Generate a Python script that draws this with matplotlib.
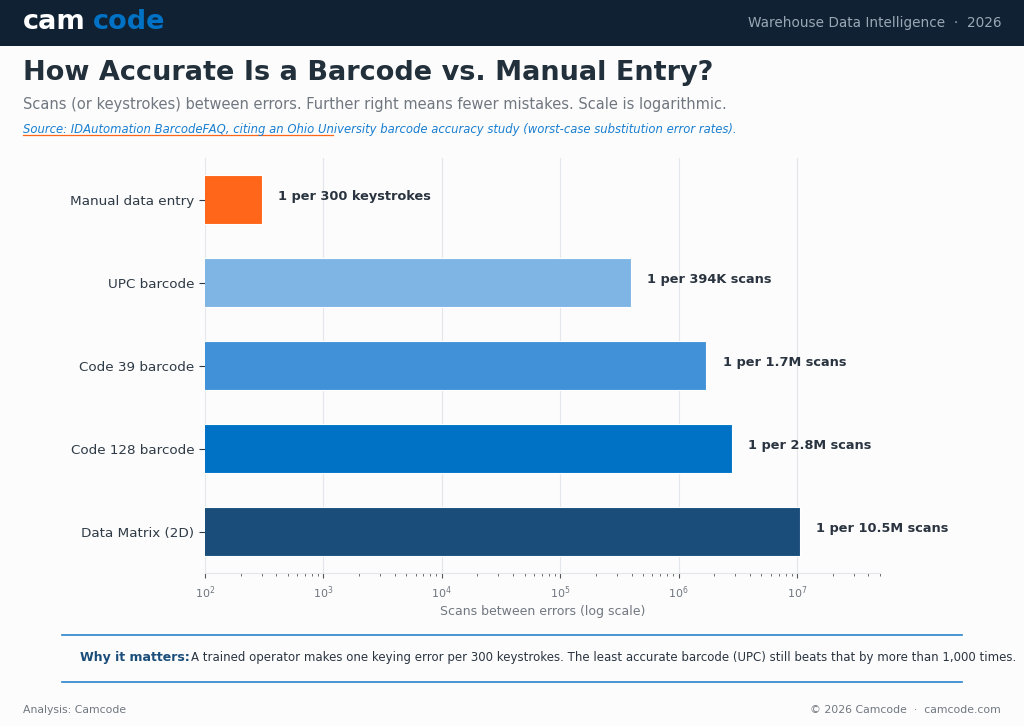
import matplotlib
matplotlib.use("Agg")
import matplotlib.pyplot as plt
from matplotlib.lines import Line2D
from matplotlib.patches import Rectangle

categories = ["Manual data entry", "UPC barcode", "Code 39 barcode", "Code 128 barcode", "Data Matrix (2D)"]
values = [300, 394_000, 1_700_000, 2_800_000, 10_500_000]
value_labels = ["1 per 300 keystrokes", "1 per 394K scans", "1 per 1.7M scans",
                "1 per 2.8M scans", "1 per 10.5M scans"]
colors = ["#ff6619", "#7fb5e4", "#4091d7", "#0072c6", "#1a4d7a"]

W, H = 1024, 726
fig = plt.figure(figsize=(W / 100, H / 100), dpi=100)
fig.patch.set_facecolor("#fcfcfc")

def fx(px):
    return px / W

def fy(py):
    return 1 - py / H

# Header band
fig.patches.append(Rectangle((0, fy(46)), 1, 46 / H, transform=fig.transFigure,
                             facecolor="#0f2133", edgecolor="none", zorder=0))
t1 = fig.text(fx(23), fy(22), "cam", color="white", fontsize=19.5, fontweight="bold",
              va="center", ha="left")
fig.canvas.draw()
bb = t1.get_window_extent()
fig.text(bb.x1 / W + 0.007, fy(22), "code", color="#0072c6", fontsize=19.5, fontweight="bold",
         va="center", ha="left")
fig.text(fx(1001), fy(23), "Warehouse Data Intelligence  ·  2026", color="#9aa8b6",
         fontsize=9.8, va="center", ha="right")

# Titles
fig.text(fx(23), fy(73), "How Accurate Is a Barcode vs. Manual Entry?", color="#22303c",
         fontsize=19.5, fontweight="bold", va="center", ha="left")
fig.text(fx(23), fy(105), "Scans (or keystrokes) between errors. Further right means fewer mistakes. Scale is logarithmic.",
         color="#707780", fontsize=10.5, va="center", ha="left")
fig.text(fx(23), fy(130), "Source: IDAutomation BarcodeFAQ, citing an Ohio University barcode accuracy study (worst-case substitution error rates).",
         color="#1a7fd0", fontsize=8.4, style="italic", va="center", ha="left")
fig.add_artist(Line2D([fx(23), fx(333)], [fy(135), fy(135)], color="#ff6619",
                      lw=0.9, transform=fig.transFigure))

# Main axes
ax = fig.add_axes([fx(205), fy(573), fx(880) - fx(205), (573 - 158) / H])
ax.set_facecolor("#fcfcfc")
ypos = list(range(len(categories)))
ax.barh(ypos, values, height=0.6, color=colors, edgecolor="white", linewidth=0.8, zorder=3)
ax.set_xscale("log")
ax.set_xlim(100, 10 ** 7.7)
ax.set_ylim(len(categories) - 0.5, -0.5)
ax.set_yticks(ypos)
ax.set_yticklabels(categories, fontsize=9.7, color="#2e3a46")
for y, v, lab in zip(ypos, values, value_labels):
    ax.annotate(lab, xy=(v, y), xytext=(12, 2), textcoords="offset points",
                va="center", ha="left", fontsize=9.3, fontweight="bold", color="#2a3440")
ax.grid(axis="x", which="major", color="#e3e6ea", lw=0.8, zorder=0)
for s in ["top", "right", "left"]:
    ax.spines[s].set_visible(False)
ax.spines["bottom"].set_color("#e3e6ea")
ax.tick_params(axis="x", which="major", labelsize=8, colors="#707780", length=3.5,
               color="#555", pad=4.5)
ax.tick_params(axis="x", which="minor", length=2, color="#555")
ax.tick_params(axis="y", length=4, color="#2e3a46")
ax.set_xlabel("Scans between errors (log scale)", fontsize=9, color="#707780", labelpad=3)

# Callout box
fig.add_artist(Line2D([fx(62), fx(962)], [fy(635), fy(635)], color="#2a82cc", lw=1.2,
                      transform=fig.transFigure))
fig.add_artist(Line2D([fx(62), fx(962)], [fy(682), fy(682)], color="#2a82cc", lw=1.2,
                      transform=fig.transFigure))
tw = fig.text(fx(80), fy(658), "Why it matters:", color="#1a4d7a", fontsize=9,
              fontweight="bold", va="center", ha="left")
fig.canvas.draw()
bb = tw.get_window_extent()
fig.text(bb.x1 / W + 0.001, fy(658),
         "A trained operator makes one keying error per 300 keystrokes. The least accurate barcode (UPC) still beats that by more than 1,000 times.",
         color="#2a3440", fontsize=8.45, va="center", ha="left")

# Footer
fig.text(fx(23), fy(710), "Analysis: Camcode", color="#707780", fontsize=7.8, va="center", ha="left")
fig.text(fx(1001), fy(710), "© 2026 Camcode  ·  camcode.com", color="#707780", fontsize=7.8,
         va="center", ha="right")

fig.savefig("out.png", dpi=100, facecolor=fig.get_facecolor())
